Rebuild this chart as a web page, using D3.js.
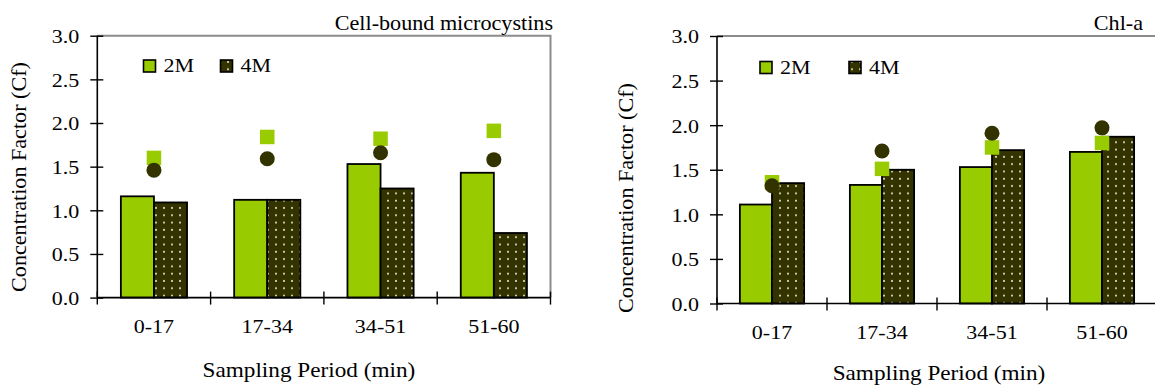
<!DOCTYPE html>
<html><head><meta charset="utf-8">
<script src="https://cdn.jsdelivr.net/npm/d3@7/dist/d3.min.js"></script>
<style>body{margin:0;background:#fff}svg{display:block}svg text{font-family:"Liberation Serif","Times New Roman",serif !important;fill:#000}</style>
</head><body><svg id="c" width="1155" height="385"></svg>
<script>
const categories = ["0-17","17-34","34-51","51-60"];
const seriesNames = ["2M","4M"];
const yTicks = [0,0.5,1.0,1.5,2.0,2.5,3.0];
// Cell-bound microcystins
const mcBar2M = [1.16,1.12,1.53,1.43];
const mcBar4M = [1.09,1.12,1.25,0.74];
const mcPt2M  = [1.60,1.84,1.82,1.91];
const mcPt4M  = [1.46,1.59,1.66,1.58];
// Chl-a
const chlBar2M = [1.11,1.33,1.53,1.70];
const chlBar4M = [1.35,1.50,1.72,1.87];
const chlPt2M  = [1.36,1.51,1.75,1.80];
const chlPt4M  = [1.32,1.71,1.91,1.97];

const GREEN = "#99cc00", DARK = "#333300";
const SX = 1.13; // horizontal stretch of the reference lettering
const svg = d3.select("#c");
const defs = svg.append("defs");
const pat = defs.append("pattern").attr("id","dots").attr("patternUnits","userSpaceOnUse")
  .attr("width",8).attr("height",7.3);
pat.append("rect").attr("width",8).attr("height",7.3).attr("fill",DARK);
pat.append("circle").attr("cx",4).attr("cy",3.6).attr("r",1).attr("fill","#e6e6cc");

function stretch(sel, sx){
  sel.each(function(){
    const t = d3.select(this);
    const x = +(t.attr("x")||0);
    t.attr("x", x/sx).attr("transform", `scale(${sx},1)`);
  });
}
function stext(g, x, y, txt, fs, anchor, sx){
  return g.append("text").attr("transform",`translate(${x},${y}) scale(${sx},1)`)
    .attr("text-anchor",anchor).attr("font-size",fs).text(txt);
}

function panel(o){
  const g = svg.append("g");
  const x = d3.scaleBand().domain(categories).range([o.x0,o.x1]);
  const y = d3.scaleLinear().domain([0,3]).range([o.yBot,o.yTop]);
  const bw = x.bandwidth()*0.292;
  g.append("path").attr("d",`M${o.x0},${o.yTop}H${o.x1}V${o.yBot}`).attr("fill","none")
    .attr("stroke","#8c8c8c").attr("stroke-width",2);
  const c = d => x(d)+x.bandwidth()/2;
  g.selectAll(".b2").data(categories).join("rect")
    .attr("x",d=>c(d)-bw).attr("width",bw)
    .attr("y",(d,i)=>y(o.b2[i])).attr("height",(d,i)=>y(0)-y(o.b2[i]))
    .attr("fill",GREEN).attr("stroke","#000").attr("stroke-width",1.8);
  g.selectAll(".b4").data(categories).join("rect")
    .attr("x",d=>c(d)).attr("width",bw)
    .attr("y",(d,i)=>y(o.b4[i])).attr("height",(d,i)=>y(0)-y(o.b4[i]))
    .attr("fill","url(#dots)").attr("stroke","#000").attr("stroke-width",1.8);
  const s = 14.5;
  g.selectAll(".p2").data(categories).join("rect")
    .attr("x",d=>c(d)-s/2).attr("y",(d,i)=>y(o.p2[i])-s/2).attr("width",s).attr("height",s)
    .attr("fill",GREEN);
  g.selectAll(".p4").data(categories).join("circle")
    .attr("cx",d=>c(d)).attr("cy",(d,i)=>y(o.p4[i])).attr("r",7.5).attr("fill",DARK);
  // y axis
  const ya = g.append("g").attr("transform",`translate(${o.x0},0)`)
    .call(d3.axisLeft(y).tickValues(yTicks).tickFormat(d3.format(".1f")).tickSize(7).tickPadding(11));
  ya.select(".domain").attr("stroke-width",1.6).attr("d",`M0,${o.yTop}V${o.yBot}`);
  ya.selectAll(".tick line").attr("x1",6).attr("x2",-7).attr("stroke-width",1.4);
  ya.selectAll(".tick text").attr("font-size",o.fs).attr("dy","0.35em");
  stretch(ya.selectAll(".tick text"), SX);
  // x axis
  const xa = g.append("g").attr("transform",`translate(0,${o.yBot})`)
    .call(d3.axisBottom(x).tickSize(0).tickPadding(o.xpad));
  xa.select(".domain").attr("stroke-width",1.6).attr("d",`M${o.x0},0H${o.x1}`);
  xa.selectAll(".tick text").attr("font-size",o.fs);
  stretch(xa.selectAll(".tick text"), SX);
  const bounds = categories.map(d=>x(d)).concat([o.x1]);
  xa.selectAll(".bt").data(bounds).join("line")
    .attr("x1",d=>d).attr("x2",d=>d).attr("y1",-6).attr("y2",7).attr("stroke","#000").attr("stroke-width",1.4);
  // titles
  stext(g, o.tx, 30, o.title, o.tfs, "end", 1.03);
  stext(g, (o.x0+o.x1)/2 + o.xtOff, o.xtY, "Sampling Period (min)", o.afs, "middle", 1.08);
  g.append("text").attr("transform",`translate(${o.ytX},${o.ytY}) rotate(-90) scale(1.03,1)`).attr("text-anchor","middle")
    .attr("font-size",o.afs).text("Concentration Factor (Cf)");
  // legend
  const leg = [{n:seriesNames[0],f:GREEN,x:o.l1},{n:seriesNames[1],f:"url(#dots)",x:o.l2}];
  leg.forEach(l=>{
    g.append("rect").attr("x",l.x).attr("y",o.ly).attr("width",12).attr("height",12)
      .attr("fill",l.f).attr("stroke","#000").attr("stroke-width",1.6);
    stext(g, l.x+20, o.ly+12, l.n, o.fs, "start", SX);
  });
}

panel({x0:97.3,x1:550.5,yTop:35.7,yBot:297.6,b2:mcBar2M,b4:mcBar4M,p2:mcPt2M,p4:mcPt4M,
  title:"Cell-bound microcystins",tx:553,fs:19.5,tfs:21.5,afs:21.5,xpad:22,xtOff:-15,xtY:377,ytX:26,ytY:177,
  l1:143.5,l2:220.5,ly:60});
panel({x0:717,x1:1157,yTop:36,yBot:303.5,b2:chlBar2M,b4:chlBar4M,p2:chlPt2M,p4:chlPt4M,
  title:"Chl-a",tx:1143,fs:19.5,tfs:21.5,afs:21.5,xpad:22,xtOff:2,xtY:380,ytX:633,ytY:198,
  l1:760,l2:849,ly:61.5});
</script></body></html>
